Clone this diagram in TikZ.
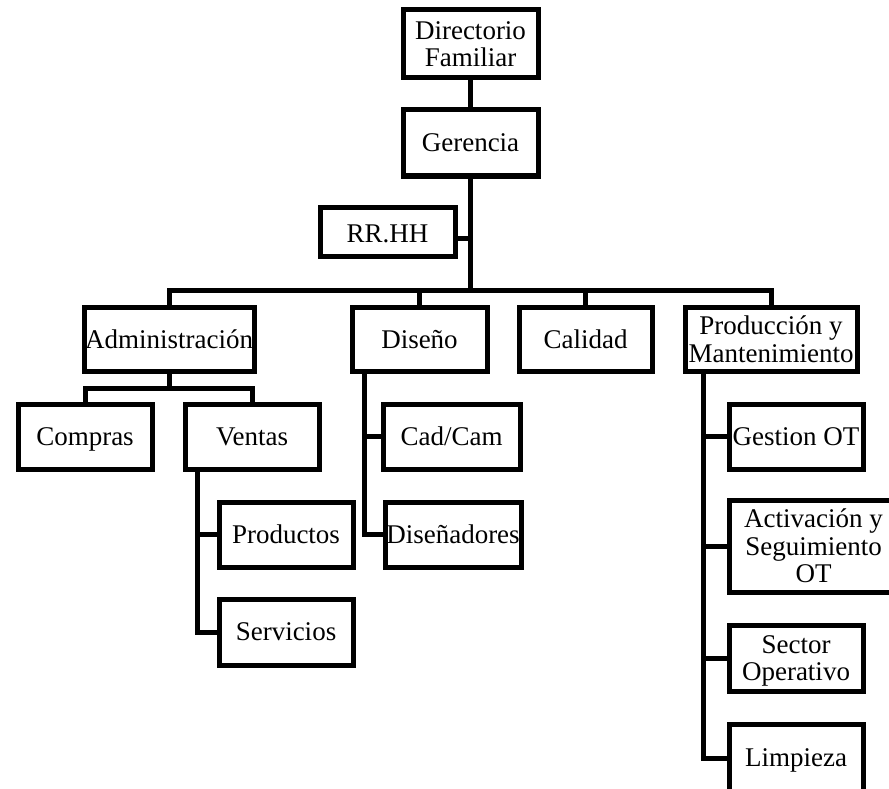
\documentclass[tikz,border=0pt]{standalone}
\usepackage{fontspec}
\setmainfont{Liberation Serif}
\begin{document}
\begin{tikzpicture}[x=1pt,y=-1pt,
  box/.style={draw=black,line width=5pt,inner sep=0pt,align=center,text depth=0pt,
    font=\fontsize{27}{27.5}\selectfont},
  conn/.style={draw=black,line width=5pt,line join=miter}]
\fill[white] (0,0) rectangle (889,789);
\useasboundingbox (0,0) rectangle (889,789);
% boxes
\node[box,minimum width=135,minimum height=68] (dir) at (470.5,44) {Directorio\\Familiar};
\node[box,minimum width=135,minimum height=66] (ger) at (470.5,143) {Gerencia};
\node[box,minimum width=135,minimum height=49] (rrhh) at (387.5,231.5) {\raisebox{-5pt}{RR.HH}};
\node[box,minimum width=170,minimum height=64] (adm) at (169,339) {Administración};
\node[box,minimum width=135,minimum height=64] (dis) at (419.5,339) {Diseño};
\node[box,minimum width=133,minimum height=64] (cal) at (585.5,339) {Calidad};
\node[box,minimum width=172,minimum height=64] (prod) at (771,339) {Producción y\\Mantenimiento};
\node[box,minimum width=134,minimum height=65] (compras) at (85,436.5) {Compras};
\node[box,minimum width=134,minimum height=65] (ventas) at (252,436.5) {Ventas};
\node[box,minimum width=137,minimum height=65] (cadcam) at (451.5,436.5) {Cad/Cam};
\node[box,minimum width=134,minimum height=65] (gestion) at (796,436.5) {Gestion OT};
\node[box,minimum width=134,minimum height=65] (productos) at (286,534.5) {Productos};
\node[box,minimum width=136,minimum height=65] (disen) at (453,534.5) {Diseñadores};
\node[box,minimum width=134,minimum height=66] (servicios) at (286,632) {Servicios};
\node[box,minimum width=169,minimum height=92] (activ) at (813.5,546) {Activación y\\Seguimiento\\OT};
\node[box,minimum width=134,minimum height=66] (sector) at (796,658) {Sector\\Operativo};
\node[box,minimum width=134,minimum height=68] (limp) at (796,758) {Limpieza};
% helper coordinates
\coordinate (busL) at (169,290);
\coordinate (admbar) at (169,388);
\coordinate (vline) at (197,0);
\coordinate (dline) at (364,0);
\coordinate (pline) at (703,0);
% connectors
\draw[conn] (dir.south) -- (ger.north);
\draw[conn] (ger.south) -- (ger.south |- busL);
\draw[conn] (rrhh.east |- 0,238) -- (ger.south |- 0,238);
\draw[conn] (adm.north) |- (prod.north |- busL) -- (prod.north);
\draw[conn] (dis.north) -- (dis.north |- busL);
\draw[conn] (cal.north) -- (cal.north |- busL);
\draw[conn] (adm.south) -- (admbar);
\draw[conn] (compras.north) |- (admbar) -| (ventas.north);
\draw[conn] (ventas.south -| vline) |- (servicios.west);
\draw[conn] (productos.west) -- (productos.west -| vline);
\draw[conn] (dis.south -| dline) |- (disen.west);
\draw[conn] (cadcam.west) -- (cadcam.west -| dline);
\draw[conn] (prod.south -| pline) |- (limp.west);
\draw[conn] (gestion.west) -- (gestion.west -| pline);
\draw[conn] (activ.west) -- (activ.west -| pline);
\draw[conn] (sector.west) -- (sector.west -| pline);
\end{tikzpicture}
\end{document}
